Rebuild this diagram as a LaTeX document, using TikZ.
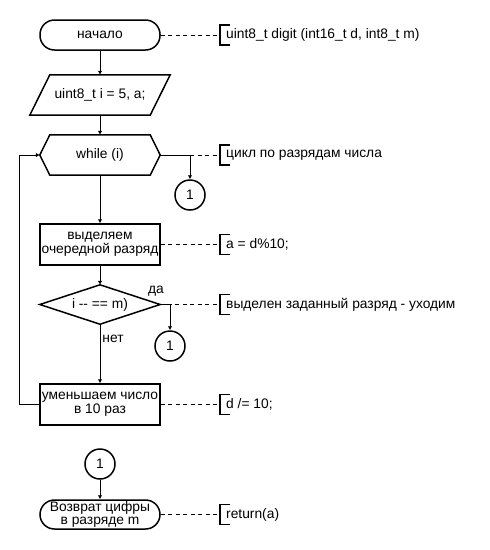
\documentclass[tikz,border=0pt]{standalone}
\usepackage{fontspec}
\setmainfont{Liberation Sans}
\usetikzlibrary{arrows.meta,calc}

\begin{document}
\begin{tikzpicture}[x=1pt,y=-1pt,
  font=\fontsize{13.8}{14}\selectfont,
  outline/.style={line width=1.5pt},
  frame/.style={minimum width=120pt, inner sep=0pt, align=center},
  procbox/.style={frame, draw, outline, minimum height=41pt},
  termbox/.style={frame, draw, outline, rounded corners=14.5pt},
  conn/.style={circle, draw, outline, minimum size=30pt, inner sep=0pt},
  flow/.style={line width=1pt, -{Latex[length=4pt,width=4.5pt]}},
  link/.style={line width=1pt},
  note/.style={line width=1pt, dash pattern=on 4pt off 3.5pt},
  remark/.style={anchor=west, inner sep=0pt},
  brace/.style={line width=1.3pt}
]
\useasboundingbox (0,0) rectangle (490,550);

% flowchart elements
\node[termbox, minimum height=30pt] (start) at (100,35) {начало};
\node[frame, minimum height=40pt] (init) at (100,95) {uint8\_t i = 5, a;};
\draw[outline] ($(init.south west)+(-10,0)$) -- ($(init.north west)+(10,0)$)
  -- ($(init.north east)+(10,0)$) -- ($(init.south east)+(-10,0)$) -- cycle;
\node[frame, minimum height=40pt] (loop) at (100,155) {while (i)};
\draw[outline] (loop.west) -- ($(loop.north west)+(10,0)$) -- ($(loop.north east)+(-10,0)$)
  -- (loop.east) -- ($(loop.south east)+(-10,0)$) -- ($(loop.south west)+(10,0)$) -- cycle;
\node[procbox] (digit) at (100,244.5) {выделяем\\очередной разряд};
\node[frame, minimum height=39pt] (check) at (100,304.5) {i -{}- == m)};
\draw[outline] (check.west) -- (check.north) -- (check.east) -- (check.south) -- cycle;
\node[procbox] (shrink) at (100,404.5) {уменьшаем число\\в 10 раз};
\node[conn] (c1) at (190,195) {1};
\node[conn] (c2) at (170,346) {1};
\node[conn] (c3) at (100,464) {1};
\node[termbox, minimum height=29pt] (finish) at (100,514.5) {Возврат цифры\\[-1pt]в разряде m};

% labels of the branches
\node[inner sep=0pt] (yes) at (156,291) {да};
\node[inner sep=0pt] (no) at (113,339) {нет};

% main flow
\draw[flow] (start) -- (init);
\draw[flow] (init) -- (loop);
\draw[flow] (loop) -- (digit);
\draw[flow] (digit) -- (check);
\draw[flow] (check) -- (shrink);
\draw[flow] (shrink.west) -- ++(-20,0) |- (loop.west);
\draw[flow] (c3) -- (finish);
\coordinate (loopexit) at (c1 |- loop.east);
\coordinate (checkexit) at (c2 |- check.east);
\draw[link] (loop.east) -- (loopexit);
\draw[flow] (loopexit) -- (c1);
\draw[link] (check.east) -- (checkexit);
\draw[flow] (checkexit) -- (c2);

% comments
\foreach \n/\y/\t in {cs/35/{uint8\_t digit (int16\_t d, int8\_t m)},
                     cl/155/{цикл по разрядам числа},
                     cd/244.5/{a = d\%10;},
                     cc/304.5/{выделен заданный разряд - уходим},
                     cr/404.5/{d /= 10;},
                     cf/514.5/{return(a)}} {
  \coordinate (\n) at (220,\y);
  \draw[brace] ($(\n)+(10,-10)$) -- ($(\n)+(0,-10)$) -- ($(\n)+(0,10)$) -- ($(\n)+(10,10)$);
  \node[remark] at ($(\n)+(6,0)$) {\t};
}
\draw[note] (start.east) -- (cs);
\draw[note] (loop.east) -- (cl);
\draw[note] (digit.east) -- (cd);
\draw[note] (check.east) -- (cc);
\draw[note] (shrink.east) -- (cr);
\draw[note] (finish.east) -- (cf);
\end{tikzpicture}
\end{document}
